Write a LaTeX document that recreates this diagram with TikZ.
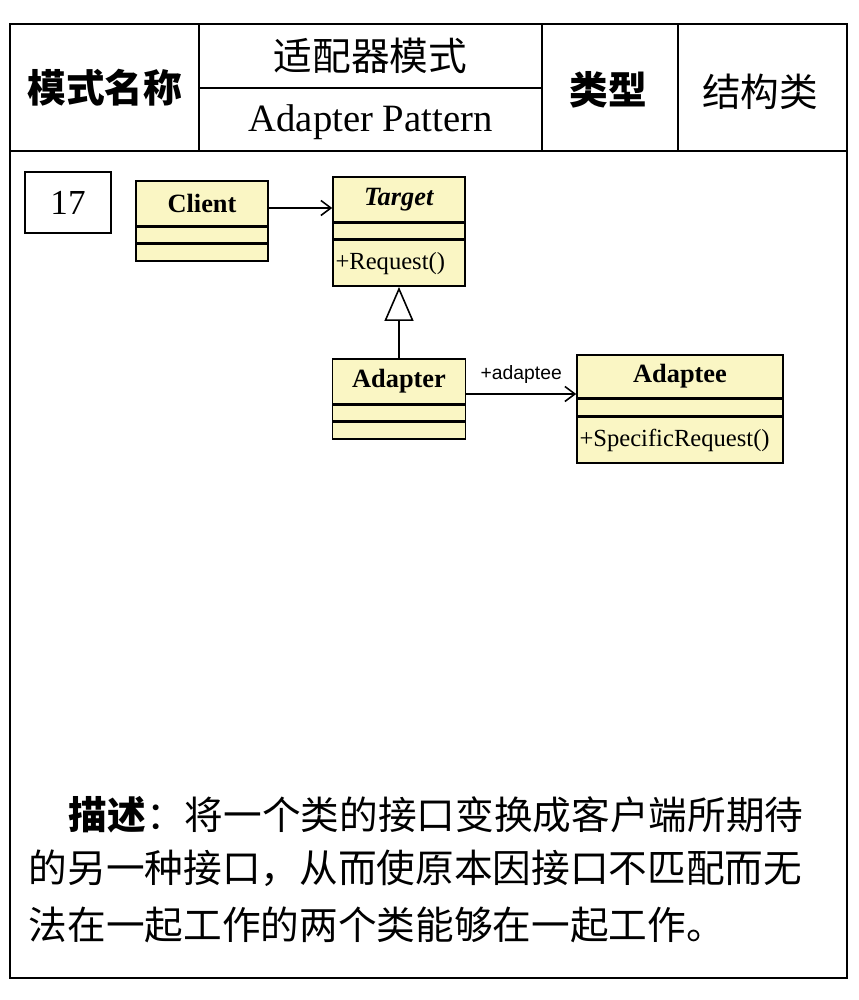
\documentclass[tikz,border=0pt]{standalone}
\usepackage{fontspec}
\setmainfont{Liberation Serif}
\newfontfamily\cjk{Noto Sans CJK SC}
\newfontfamily\labelsans{Liberation Sans}
\usepackage{xcolor}
\usepackage{tikz}
\usetikzlibrary{arrows.meta, positioning}
\definecolor{umlyellow}{RGB}{250,246,196}
\tikzset{
cjktext/.style = {font=\cjk\fontsize{22}{26}\selectfont}
}
\tikzset{
clshead/.style = {rectangle, draw=black, fill=umlyellow, text width=#1,
                  align=center, minimum height=0.9cm, inner xsep=0.05cm,
                  inner ysep=0pt, font=\fontsize{15}{18}\selectfont\bfseries},
clshead/.default = 2.54cm % text width of the class box
}
\tikzset{
clspart/.style = {rectangle, draw=black, fill=umlyellow, text width=#1,
                  align=left, inner xsep=0.05cm, inner ysep=0pt,
                  font=\fontsize{14}{17}\selectfont},
clspart/.default = 2.54cm
}
\tikzset{
assoc/.style = {-{Straight Barb[length=0.2cm, width=0.3cm]}}
}

\begin{document}
\begin{tikzpicture}[line width=0.9pt]
    \useasboundingbox (0,0) rectangle (17.16,20);
    % frame and header
    \draw (0.2,0.44) rectangle (16.94,19.52);
    \draw (0.2,16.98) -- (16.94,16.98);
    \draw (3.98,16.98) -- (3.98,19.52);
    \draw (10.84,16.98) -- (10.84,19.52);
    \draw (13.56,16.98) -- (13.56,19.52);
    \draw (3.98,18.24) -- (10.84,18.24);

    \node[cjktext] (modeName) at (2.1,18.24) {\bfseries 模式名称};
    \node[cjktext] (cnName) at (7.41,18.88) {适配器模式};
    \node[font=\fontsize{22}{26}\selectfont] (enName) at (7.41,17.56) {Adapter Pattern};
    \node[cjktext] (typeLabel) at (12.16,18.2) {\bfseries 类型};
    \node[cjktext] (typeValue) at (15.2,18.16) {结构类};

    \node[draw, minimum width=1.72cm, minimum height=1.22cm,
          font=\fontsize{20}{24}\selectfont] (number) at (1.36,15.95) {17};

    % classes
    \node[clshead] (clientName) at (4.04,15.93) {Client};
    \node[clspart, minimum height=0.3cm, below=0pt of clientName] (clientAttr) {};
    \node[clspart, minimum height=0.34cm, below=0pt of clientAttr] (clientOps) {};

    \node[clshead] (targetName) at (7.98,16.01) {\textit{Target}};
    \node[clspart, minimum height=0.3cm, below=0pt of targetName] (targetAttr) {};
    \node[clspart, minimum height=0.92cm, below=0pt of targetAttr] (targetOps) {+Request()};

    \node[clshead=2.56cm] (adapterName) at (7.98,12.37) {Adapter};
    \node[clspart=2.56cm, minimum height=0.3cm, below=0pt of adapterName] (adapterAttr) {};
    \node[clspart=2.56cm, minimum height=0.34cm, below=0pt of adapterAttr] (adapterOps) {};

    \node[clshead=4.02cm, minimum height=0.86cm] (adapteeName) at (13.6,12.47) {Adaptee};
    \node[clspart=4.02cm, minimum height=0.32cm, below=0pt of adapteeName] (adapteeAttr) {};
    \node[clspart=4.02cm, minimum height=0.92cm, below=0pt of adapteeAttr] (adapteeOps) {+SpecificRequest()};

    % relations
    \coordinate (clientOut) at ([yshift=-0.09cm]clientName.east);
    \draw[assoc] (clientOut) -- (clientOut -| targetName.west);
    \draw[-{Triangle[open, length=0.68cm, width=0.58cm]}] (adapterName) -- (targetOps);
    \coordinate (adapterOut) at ([yshift=-0.25cm]adapterName.east);
    \draw[assoc] (adapterOut) -- node[above=0.08cm, font=\labelsans\fontsize{11}{13}\selectfont] (roleLabel) {+adaptee} (adapterOut -| adapteeName.west);

    % description
    \node[cjktext, anchor=west, inner sep=0pt] (desc1) at (1.36,3.7) {{\bfseries 描述}：将一个类的接口变换成客户端所期待};
    \node[cjktext, anchor=west, inner sep=0pt] (desc2) at (0.56,2.64) {的另一种接口，从而使原本因接口不匹配而无};
    \node[cjktext, anchor=west, inner sep=0pt] (desc3) at (0.56,1.5) {法在一起工作的两个类能够在一起工作。};
\end{tikzpicture}
\end{document}
